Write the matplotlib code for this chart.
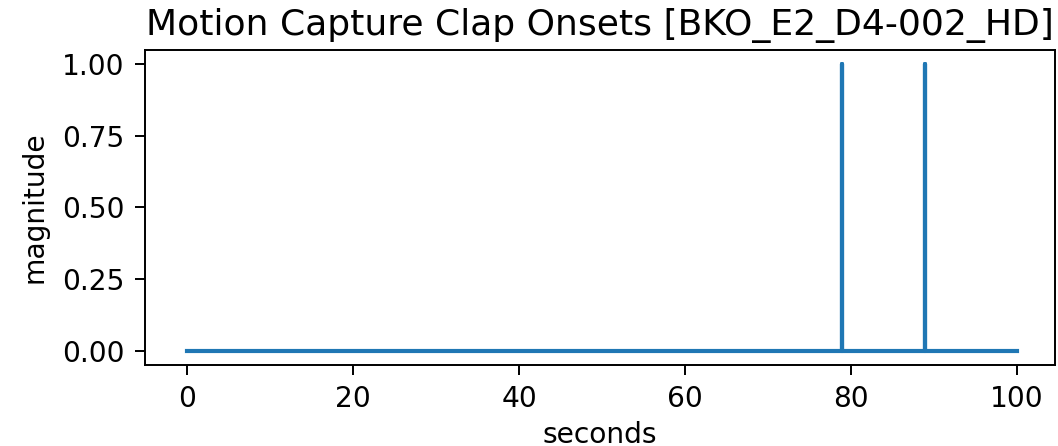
import numpy as np
import matplotlib
matplotlib.use("Agg")
import matplotlib.pyplot as plt

# clap onset curve: zero everywhere except unit spikes at the clap times
seconds = [0.0, 79.0, 79.0, 79.0, 88.9, 88.9, 88.9, 100.0]
magnitude = [0, 0, 1, 0, 0, 1, 0, 0]
title = "Motion Capture Clap Onsets [BKO_E2_D4-002_HD]"

dpi = 176
plt.rcParams["font.size"] = 11.5
plt.rcParams["xtick.major.size"] = 4.2
plt.rcParams["ytick.major.size"] = 4.2
plt.rcParams["xtick.major.pad"] = 4.2
plt.rcParams["ytick.major.pad"] = 4.2
plt.rcParams["axes.labelpad"] = 5.5
fig, ax = plt.subplots(figsize=(1058 / dpi, 446 / dpi), dpi=dpi)
fig.subplots_adjust(left=0.137, right=0.997, bottom=0.182, top=0.888)

ax.plot(seconds, magnitude, color="#1f77b4", linewidth=1.7)
ax.set_title(title, fontsize=14.8)
ax.set_xlabel("seconds", labelpad=3)
ax.set_ylabel("magnitude")
ax.set_xlim(-5.1, 104.6)
ax.set_yticks([0, 0.25, 0.5, 0.75, 1.0])
ax.set_yticklabels(["0.00", "0.25", "0.50", "0.75", "1.00"])

fig.savefig("out.png", dpi=dpi)
